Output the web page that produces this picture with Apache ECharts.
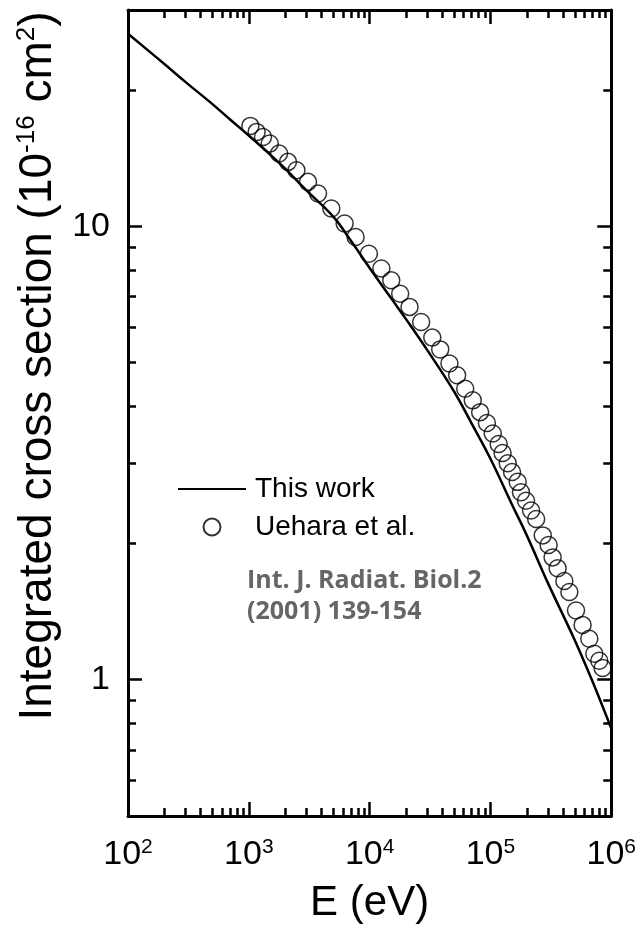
<!DOCTYPE html>
<html>
<head>
<meta charset="utf-8">
<script src="https://cdn.jsdelivr.net/npm/echarts@6/dist/echarts.min.js"></script>
<style>
html,body{margin:0;padding:0;background:#fff;}
#chart{width:639px;height:936px;}
</style>
</head>
<body>
<div id="chart"></div>
<script>
// "This work" curve
var lineE = [100, 200, 300, 500, 700, 1000, 1500, 2000, 3000, 5000, 7000, 10000, 15000, 20000, 30000, 50000, 70000, 100000, 150000, 200000, 300000, 500000, 700000, 1000000];
var lineSigma = [26.6, 22.8, 20.8, 18.6, 17.2, 15.85, 14.4, 13.4, 12.0, 10.5, 9.29, 8.09, 6.95, 6.24, 5.33, 4.32, 3.67, 3.07, 2.44, 2.08, 1.63, 1.22, 0.99, 0.78];

// Uehara et al. points
var dataE = [1030, 1160, 1310, 1490, 1780, 2110, 2480, 3090, 3740, 4820, 6210, 7650, 9860, 12500, 15100, 17900, 21400, 26700, 33000, 38400, 45800, 53000, 61800, 71400, 82200, 93500, 104500, 117000, 126000, 139000, 151000, 168000, 179000, 197000, 217000, 239000, 271000, 303000, 327000, 360000, 409000, 450000, 511000, 579000, 658000, 724000, 796000, 848000];
var dataSigma = [16.65, 16.15, 15.74, 15.22, 14.47, 13.87, 13.29, 12.53, 11.81, 10.94, 10.14, 9.47, 8.70, 8.07, 7.60, 7.10, 6.64, 6.15, 5.68, 5.35, 4.98, 4.69, 4.38, 4.13, 3.89, 3.68, 3.49, 3.31, 3.16, 3.00, 2.87, 2.73, 2.59, 2.48, 2.36, 2.26, 2.08, 1.98, 1.86, 1.76, 1.65, 1.56, 1.42, 1.32, 1.23, 1.14, 1.10, 1.06];

// ticks
var xMajor = [100, 1000, 10000, 100000, 1000000];
var xMinorFactors = [2, 3, 4, 5, 6, 7, 8, 9];
var yMajor = [1, 10];
var yMinor = [0.5, 0.6, 0.7, 0.8, 0.9, 2, 3, 4, 5, 6, 7, 8, 9, 20, 30];

var xMinor = [];
for (var i = 0; i < xMajor.length - 1; i++) {
  for (var j = 0; j < xMinorFactors.length; j++) xMinor.push(xMajor[i] * xMinorFactors[j]);
}

var FONT = '"Liberation Sans", Arial, sans-serif';
var lineData = lineE.map(function (e, k) { return [e, lineSigma[k]]; });
var scatData = dataE.map(function (e, k) { return [e, dataSigma[k]]; });

function xAxisDef(pos, major, show) {
  return {
    type: 'log', logBase: 10, position: pos, min: 100, max: 1000000,
    axisLine: { show: major, onZero: false, lineStyle: { color: '#000', width: 3 } },
    axisTick: { show: true, inside: true, length: major ? 14 : 8, customValues: major ? xMajor : xMinor,
      lineStyle: { color: '#000', width: 2.5 } },
    axisLabel: { show: show, customValues: xMajor, margin: 21,
      formatter: function (v) { return '{b|10}{s|' + Math.round(Math.log10(v)) + '}'; },
      rich: {
        b: { fontSize: 34, fontFamily: FONT, color: '#000', lineHeight: 36 },
        s: { fontSize: 21, fontFamily: FONT, color: '#000', verticalAlign: 'top', lineHeight: 20 }
      }
    },
    splitLine: { show: false }, minorTick: { show: false }
  };
}
function yAxisDef(pos, major, show) {
  return {
    type: 'log', logBase: 10, position: pos, min: 0.5, max: 30,
    axisLine: { show: major, onZero: false, lineStyle: { color: '#000', width: 3 } },
    axisTick: { show: true, inside: true, length: major ? 14 : 8, customValues: major ? yMajor : yMinor,
      lineStyle: { color: '#000', width: 2.5 } },
    axisLabel: { show: show, customValues: yMajor, margin: 18, fontSize: 34, fontFamily: FONT, color: '#000',
      formatter: function (v) { return String(v); } },
    splitLine: { show: false }, minorTick: { show: false }
  };
}

var xa0 = xAxisDef('bottom', true, true);
xa0.name = 'E (eV)';
xa0.nameLocation = 'middle';
xa0.nameGap = 66;
xa0.nameTextStyle = { fontSize: 42, fontFamily: FONT, color: '#000' };

var ya0 = yAxisDef('left', true, true);
ya0.name = '{n|Integrated cross section (10}{s|-16}{n| cm}{s|2}{n|)}';
ya0.nameLocation = 'middle';
ya0.nameRotate = 90;
ya0.nameGap = 52;
ya0.nameTextStyle = {
  padding: [0, 0, 0, 94],
  rich: {
    n: { fontSize: 46, fontFamily: FONT, color: '#000', lineHeight: 48 },
    s: { fontSize: 26, fontFamily: FONT, color: '#000', verticalAlign: 'top', lineHeight: 27 }
  }
};

var chart = echarts.init(document.getElementById('chart'), null, { renderer: 'canvas' });
chart.setOption({
  animation: false,
  backgroundColor: '#fff',
  grid: { left: 128, right: 27, top: 10, bottom: 120, containLabel: false },
  xAxis: [xa0, xAxisDef('bottom', false, false), xAxisDef('top', true, false), xAxisDef('top', false, false)],
  yAxis: [ya0, yAxisDef('left', false, false), yAxisDef('right', true, false), yAxisDef('right', false, false)],
  legend: {
    left: 178, top: 475, padding: 0, orient: 'vertical', itemWidth: 68, itemHeight: 17, itemGap: 10,
    textStyle: { fontSize: 28, fontFamily: FONT, color: '#000', padding: [0, 0, 0, 4] },
    data: [
      { name: 'This work', icon: 'path://M0,0 L100,0 L100,3 L0,3 Z' },
      { name: 'Uehara et al.' }
    ]
  },
  graphic: [{
    type: 'text', left: 247, top: 565,
    style: { text: 'Int. J. Radiat. Biol.2\n(2001) 139-154', font: 'bold 25px "Open Sans"', fill: '#666', lineHeight: 31 }
  }],
  series: [
    {
      name: 'This work', type: 'line', xAxisIndex: 0, yAxisIndex: 0, data: lineData,
      smooth: 0.4, symbol: 'none', showSymbol: false,
      lineStyle: { color: '#000', width: 2.5 }, itemStyle: { color: '#000' }
    },
    {
      name: 'Uehara et al.', type: 'scatter', xAxisIndex: 0, yAxisIndex: 0, data: scatData,
      symbol: 'circle', symbolSize: 17,
      itemStyle: { color: 'rgba(0,0,0,0)', borderColor: '#000', borderWidth: 1.5 }
    }
  ]
});
</script>
</body>
</html>
